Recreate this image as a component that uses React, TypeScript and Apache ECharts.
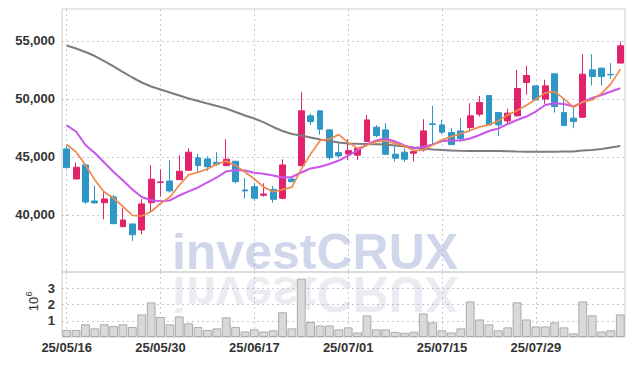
import React, { useEffect, useRef } from 'react';
import * as echarts from 'echarts';

const dates = [
  '25/05/16', '25/05/19', '25/05/20', '25/05/21', '25/05/22', '25/05/23', '25/05/26', '25/05/27', '25/05/28', '25/05/29',
  '25/05/30', '25/06/02', '25/06/04', '25/06/05', '25/06/09', '25/06/10', '25/06/11', '25/06/12', '25/06/13', '25/06/16',
  '25/06/17', '25/06/18', '25/06/19', '25/06/20', '25/06/23', '25/06/24', '25/06/25', '25/06/26', '25/06/27', '25/06/30',
  '25/07/01', '25/07/02', '25/07/03', '25/07/04', '25/07/07', '25/07/08', '25/07/09', '25/07/10', '25/07/11', '25/07/14',
  '25/07/15', '25/07/16', '25/07/17', '25/07/18', '25/07/21', '25/07/22', '25/07/23', '25/07/24', '25/07/25', '25/07/28',
  '25/07/29', '25/07/30', '25/07/31', '25/08/01', '25/08/04', '25/08/05', '25/08/06', '25/08/07', '25/08/08', '25/08/11',
];

const opens = [
  45690, 43100, 44310, 41210, 41060, 41550, 38990, 39230, 38710, 41060,
  42800, 42930, 43040, 43850, 44920, 44830, 44540, 44250, 44630, 42160,
  42440, 41700, 42200, 41440, 43100, 44250, 48540, 48970, 47330, 45370,
  45260, 45150, 46320, 47560, 47330, 45230, 45410, 45320, 45600, 47850,
  47760, 47100, 47240, 47530, 48680, 50290, 48820, 48100, 48540, 51410,
  51120, 49980, 52160, 48820, 48340, 48420, 52500, 52650, 52110, 53080,
];
const closes = [
  44080, 44110, 41120, 41040, 41380, 39250, 39570, 38300, 40950, 43080,
  42850, 42070, 43770, 45410, 44250, 44160, 44370, 44800, 42870, 42070,
  41440, 41810, 41350, 44310, 42870, 48970, 48040, 47390, 44940, 45090,
  45540, 45750, 48190, 46840, 45230, 44890, 44800, 45460, 47240, 47790,
  47130, 46060, 46580, 48540, 49680, 47760, 47760, 48770, 50890, 52010,
  49910, 51120, 49340, 47700, 48040, 52130, 51920, 51920, 52070, 54570,
];
const lows = [
  44000, 43100, 40950, 41010, 39630, 39230, 38990, 37760, 38340, 40200,
  41580, 41920, 43040, 43850, 43600, 43790, 44230, 44250, 42730, 41410,
  41230, 41580, 41060, 41350, 42870, 44250, 47760, 46900, 44740, 44890,
  44740, 44740, 46320, 46700, 45170, 44600, 44570, 44600, 45460, 46040,
  46980, 46060, 46320, 47330, 48470, 47760, 46810, 47910, 48470, 50350,
  49910, 49570, 48820, 47700, 47480, 48420, 51150, 51150, 51720, 53080,
];
const highs = [
  45950, 44510, 44310, 42530, 41960, 41730, 40630, 39230, 41380, 44290,
  43940, 44720, 45150, 45750, 45260, 45060, 45410, 46530, 44630, 43170,
  42760, 42730, 42500, 44800, 43300, 50580, 48730, 49030, 47410, 46320,
  46530, 45800, 48620, 47730, 47910, 46040, 45750, 45460, 48250, 49400,
  48190, 47480, 48340, 49630, 50260, 50290, 48820, 49140, 52500, 52850,
  51120, 51640, 52160, 50060, 49340, 53850, 53850, 52650, 53080, 54940,
];

const ma5 = [
  46070, 45430, 44310, 43020, 41980, 41440, 40730, 39960, 39910, 40300,
  40990, 41550, 42560, 43450, 43680, 43970, 44390, 44640, 44250, 43700,
  43100, 42400, 42000, 42190, 42400, 43950, 45250, 46400, 46550, 46920,
  46230, 45740, 46000, 46320, 46380, 46150, 45950, 45550, 45600, 46030,
  46470, 46750, 47000, 47270, 47590, 47760, 48120, 48600, 49000, 49450,
  49970, 50520, 50620, 50000, 49280, 49740, 49900, 50470, 51290, 52550,
];
const ma10 = [
  47710, 47190, 46030, 45340, 44520, 43700, 42970, 42200, 41550, 41270,
  41180, 41250, 41680, 42030, 42370, 42800, 43230, 43750, 43880, 43830,
  43640, 43560, 43400, 43230, 43270, 43660, 44010, 44150, 44390, 44690,
  45120, 45560, 46070, 46420, 46590, 46330, 45990, 45740, 45860, 46070,
  46370, 46420, 46420, 46590, 46890, 47230, 47450, 47840, 48180, 48480,
  48910, 49470, 49620, 49560, 49340, 49730, 50080, 50330, 50640, 50910,
];
const maLong = [
  54600, 54340, 54040, 53690, 53260, 52790, 52310, 51840, 51410, 51065,
  50810, 50550, 50290, 50030, 49820, 49600, 49390, 49170, 48870, 48570,
  48310, 47970, 47580, 47230, 46980, 46850, 46670, 46500, 46370, 46240,
  46160, 46130, 46110, 46100, 46070, 45990, 45900, 45810, 45730, 45640,
  45600, 45555, 45530, 45510, 45510, 45510, 45510, 45495, 45470, 45450,
  45450, 45450, 45450, 45470, 45470, 45555, 45600, 45685, 45815, 45940,
];

const volumes = [
  430000, 430000, 780000, 530000, 780000, 670000, 780000, 610000, 1390000, 2130000,
  1230000, 780000, 1270000, 840000, 610000, 430000, 530000, 1210000, 610000, 340000,
  470000, 340000, 410000, 1520000, 530000, 3590000, 920000, 710000, 710000, 470000,
  590000, 280000, 1330000, 470000, 470000, 320000, 260000, 320000, 1450000, 900000,
  410000, 280000, 530000, 2190000, 1080000, 780000, 410000, 590000, 2130000, 1080000,
  650000, 650000, 900000, 590000, 220000, 2190000, 1330000, 340000, 410000, 1390000,
];

const UP = '#e2226b';
const DOWN = '#2f97c7';
const FONT = "'Liberation Sans', Arial, sans-serif";

export default function App() {
  const ref = useRef<HTMLDivElement>(null);
  useEffect(() => {
    const chart = echarts.init(ref.current!, null, { renderer: 'svg' });
    const candles = dates.map((_, i) => [opens[i], closes[i], lows[i], highs[i]]);
    const dotted = { color: '#c6c6dc', type: [2, 3] as any, width: 1 };
    const labelStyle = { fontSize: 13, fontWeight: 'bold' as const, color: '#333', fontFamily: FONT };
    chart.setOption({
      animation: false,
      backgroundColor: '#ffffff',
      grid: [
        { left: 62, right: 9, top: 9, height: 263, show: true, borderColor: '#cfcfcf', borderWidth: 1 },
        { left: 62, right: 9, top: 272, height: 65, show: true, borderColor: '#cfcfcf', borderWidth: 1 },
      ],
      xAxis: [
        {
          type: 'category', gridIndex: 0, data: dates, boundaryGap: true,
          axisLine: { show: false }, axisTick: { show: false }, axisLabel: { show: false },
          splitLine: { show: true, interval: 9, alignWithLabel: true, lineStyle: dotted },
        },
        {
          type: 'category', gridIndex: 1, data: dates, boundaryGap: true,
          axisLine: { show: false }, axisTick: { show: false },
          axisLabel: { ...labelStyle, interval: 9, margin: 4 },
          splitLine: { show: true, interval: 9, alignWithLabel: true, lineStyle: dotted },
        },
      ],
      yAxis: [
        {
          type: 'value', gridIndex: 0, min: 35090, max: 57740, splitNumber: 5, scale: true,
          axisLine: { show: false }, axisTick: { show: false },
          axisLabel: {
            ...labelStyle, margin: 7, showMinLabel: false, showMaxLabel: false,
            formatter: (v: number) => v.toLocaleString('en-US'),
          },
          splitLine: { show: true, showMinLine: false, showMaxLine: false, lineStyle: dotted },
        },
        {
          type: 'value', gridIndex: 1, min: 0, max: 4000000, interval: 1000000,
          axisLine: { show: false }, axisTick: { show: false },
          axisLabel: {
            ...labelStyle, margin: 7, showMinLabel: false, showMaxLabel: false,
            formatter: (v: number) => String(v / 1000000),
          },
          splitLine: { show: true, showMinLine: false, showMaxLine: false, lineStyle: dotted },
        },
      ],
      graphic: [
        {
          type: 'text', x: 315, y: 252, z: 1, silent: true,
          style: {
            text: 'investCRUX', textAlign: 'center', textVerticalAlign: 'middle',
            font: `bold 50px ${FONT}`, fill: 'rgba(145,160,205,0.42)',
          },
        },
        {
          type: 'text', x: 315, y: 294, scaleY: -1, z: 1, silent: true,
          style: {
            text: 'investCRUX', textAlign: 'center', textVerticalAlign: 'middle',
            font: `bold 50px ${FONT}`, fill: 'rgba(150,155,185,0.2)',
          },
        },
        {
          type: 'text', x: 33, y: 304, rotation: Math.PI / 2, silent: true,
          style: { text: '10', textAlign: 'center', textVerticalAlign: 'middle', font: `13px ${FONT}`, fill: '#333' },
        },
        {
          type: 'text', x: 29, y: 294, rotation: Math.PI / 2, silent: true,
          style: { text: '6', textAlign: 'center', textVerticalAlign: 'middle', font: `9px ${FONT}`, fill: '#333' },
        },
      ],
      series: [
        {
          type: 'candlestick', name: 'price', xAxisIndex: 0, yAxisIndex: 0, data: candles,
          barWidth: '68%',
          itemStyle: { color: UP, color0: DOWN, borderColor: UP, borderColor0: DOWN, borderWidth: 1 },
        },
        {
          type: 'line', name: 'MA long', xAxisIndex: 0, yAxisIndex: 0, data: maLong, symbol: 'none', z: 3,
          lineStyle: { color: '#7d7d7d', width: 2 },
        },
        {
          type: 'line', name: 'MA10', xAxisIndex: 0, yAxisIndex: 0, data: ma10, symbol: 'none', z: 3,
          lineStyle: { color: '#c955ea', width: 2 },
        },
        {
          type: 'line', name: 'MA5', xAxisIndex: 0, yAxisIndex: 0, data: ma5, symbol: 'none', z: 4,
          lineStyle: { color: '#ee8a4e', width: 1.7 },
        },
        {
          type: 'bar', name: 'volume', xAxisIndex: 1, yAxisIndex: 1, data: volumes, barWidth: '94%',
          itemStyle: { color: '#d9d9d9', borderColor: '#ababab', borderWidth: 1 },
        },
      ],
    });
    return () => chart.dispose();
  }, []);
  return <div ref={ref} style={{ position: 'fixed', left: 0, top: 0, width: 634, height: 366, background: '#fff' }} />;
}
